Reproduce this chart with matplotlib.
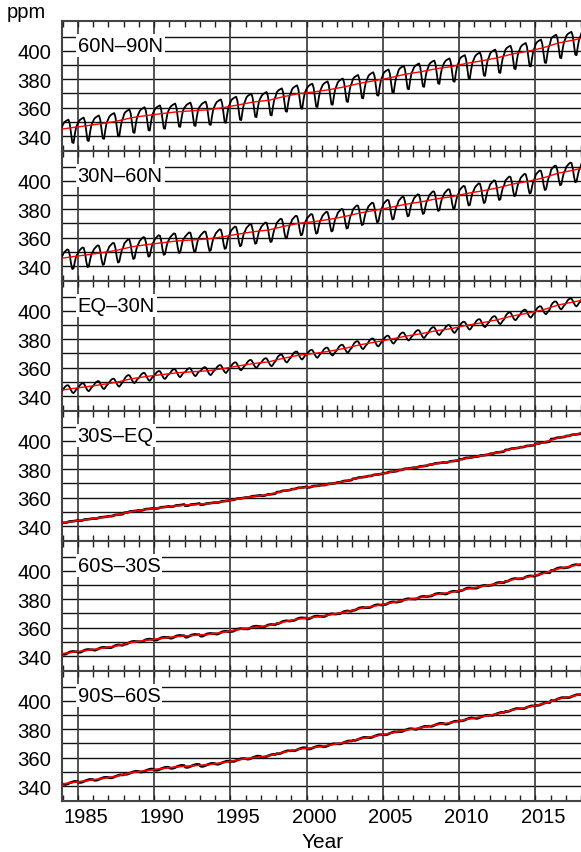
import numpy as np
import matplotlib
matplotlib.use('Agg')
import matplotlib.pyplot as plt
import matplotlib.transforms as mtransforms
from matplotlib.ticker import MultipleLocator

plt.rcParams['font.family'] = ['Liberation Sans', 'DejaVu Sans']

# annual mean CO2 (ppm) per latitude band, 1983..2018
years = np.arange(1983, 2019)

bands = ['60N\u201390N', '30N\u201360N', 'EQ\u201330N', '30S\u2013EQ', '60S\u201330S', '90S\u201360S']

n6090 = [344.2, 345.8, 347.2, 348.7, 350.4, 352.9, 354.5, 355.8, 357.1, 357.8, 358.5, 360.0,
         361.9, 364.0, 365.2, 367.8, 369.9, 371.1, 372.7, 374.7, 377.2, 379.1, 381.1, 383.6,
         385.3, 387.4, 388.9, 391.2, 393.0, 395.1, 397.8, 399.7, 402.1, 405.5, 407.6, 410.0]
n3060 = [344.8, 346.4, 347.8, 349.3, 351.0, 353.5, 355.1, 356.4, 357.7, 358.4, 359.1, 360.6,
         362.5, 364.2, 365.4, 368.0, 370.1, 371.3, 372.9, 374.9, 377.4, 379.3, 381.3, 383.5,
         385.2, 387.3, 388.8, 391.1, 392.9, 395.0, 397.7, 399.6, 402.0, 405.4, 407.5, 409.9]
n0030 = [343.5, 345.1, 346.5, 348.0, 349.7, 352.2, 353.8, 355.1, 356.4, 357.1, 357.8, 359.3,
         361.2, 362.9, 364.1, 366.7, 368.8, 370.0, 371.6, 373.6, 376.1, 378.0, 380.0, 382.2,
         383.9, 386.0, 387.5, 389.8, 391.6, 393.7, 396.4, 398.3, 400.7, 404.1, 406.2, 408.6]
s3000 = [341.5, 343.1, 344.5, 346.0, 347.7, 350.2, 351.8, 353.1, 354.4, 355.1, 355.8, 357.3,
         359.2, 360.9, 362.1, 364.7, 366.8, 368.0, 369.6, 371.6, 374.1, 376.0, 378.0, 380.2,
         381.9, 384.0, 385.5, 387.8, 389.6, 391.7, 394.4, 396.3, 398.7, 402.1, 404.2, 406.6]
s6030 = [340.9, 342.5, 343.9, 345.4, 347.1, 349.6, 351.2, 352.5, 353.8, 354.5, 355.2, 356.7,
         358.6, 360.3, 361.5, 364.1, 366.2, 367.4, 369.0, 371.0, 373.5, 375.4, 377.4, 379.6,
         381.3, 383.4, 384.9, 387.2, 389.0, 391.1, 393.8, 395.7, 398.1, 401.5, 403.6, 406.0]
s9060 = [340.7, 342.3, 343.7, 345.2, 346.9, 349.4, 351.0, 352.3, 353.6, 354.3, 355.0, 356.5,
         358.4, 360.1, 361.3, 363.9, 366.0, 367.2, 368.8, 370.8, 373.3, 375.2, 377.2, 379.4,
         381.1, 383.2, 384.7, 387.0, 388.8, 390.9, 393.6, 395.5, 397.9, 401.3, 403.4, 405.8]

# mean monthly departure from the annual mean (Jan..Dec)
c6090 = [3.0, 4.15, 4.8, 5.35, 5.8, 2.95, -3.45, -10.3, -10.65, -4.5, 0.35, 2.5]
c3060 = [2.5, 3.5, 4.5, 5.3, 5.0, 1.5, -4.5, -8.5, -8.0, -3.5, 0.3, 1.9]
c0030 = [-0.3, 1.15, 2.0, 2.55, 2.4, 0.95, -0.95, -2.5, -3.05, -2.0, -0.55, 0.3]
c3000 = [-0.8, -0.75, -0.7, -0.45, -0.1, 0.15, 0.2, 0.25, 0.4, 0.5, 0.6, 0.85]
c6030 = [-1.2, -1.25, -1.0, -0.55, -0.1, 0.35, 0.55, 0.7, 0.75, 0.6, 0.55, 0.6]
c9060 = [-1.0, -1.15, -1.1, -0.85, -0.5, -0.05, 0.25, 0.6, 0.85, 1.0, 0.95, 0.9]

annual = [n6090, n3060, n0030, s3000, s6030, s9060]
cycles = [c6090, c3060, c0030, c3000, c6030, c9060]

year_labels = [1985, 1990, 1995, 2000, 2005, 2010, 2015]

months = np.arange(12)

fig, axes = plt.subplots(6, 1, figsize=(5.81, 8.53), dpi=100, sharex=True)
fig.subplots_adjust(left=0.1067, right=1.0, top=0.9742, bottom=0.0598, hspace=0)

for i, ax in enumerate(axes):
    ann = np.array(annual[i])
    cyc = np.array(cycles[i])
    t = (years[:, None] + (months[None, :] + 0.5) / 12.0).ravel()
    monthly = (ann[:, None] + cyc[None, :]).ravel()
    south = i >= 3
    ax.plot(t, monthly, color='black', lw=1.9 if south else 1.3, zorder=3)
    ax.plot(years + 0.5, ann, color='red', lw=1.2 if south else 1.0, zorder=4)

    ax.set_xlim(1983.95, 2018.0)
    ax.set_ylim(329.5, 421)
    ax.set_yticks([340, 360, 380, 400])
    for v in range(340, 420, 10):
        ax.axhline(v, color='#111111', lw=1.0, zorder=1)
    for yr in year_labels:
        ax.axvline(yr, color='#444444', lw=1.3, zorder=1)
    ax.xaxis.set_major_locator(MultipleLocator(5))
    ax.xaxis.set_minor_locator(MultipleLocator(1))
    ax.tick_params(axis='x', which='both', direction='in', top=True, bottom=True,
                   length=4, width=1.0, color='#222222', labelbottom=False)
    ax.tick_params(axis='y', length=0, pad=8, labelsize=14.7)
    for s in ax.spines.values():
        s.set_color('#444444')
        s.set_linewidth(1.5)
    ax.spines['right'].set_visible(False)
    ax.text(0.03, 0.815, bands[i], transform=ax.transAxes, fontsize=14.5, va='center',
            ha='left', zorder=5,
            bbox=dict(facecolor='white', edgecolor='none', pad=1.5))

# year labels sit in the middle of each labelled year
bottom = axes[-1]
trans = mtransforms.blended_transform_factory(bottom.transData, bottom.transAxes)
for yr in year_labels:
    bottom.text(yr + 0.5, -0.045, str(yr), transform=trans, ha='center', va='top',
                fontsize=14.5)

fig.text(0.556, 0.012, 'Year', fontsize=15, ha='center', va='center')
fig.text(0.012, 0.985, 'ppm', fontsize=14.5, va='center', ha='left')

fig.savefig('out.png', dpi=100)
